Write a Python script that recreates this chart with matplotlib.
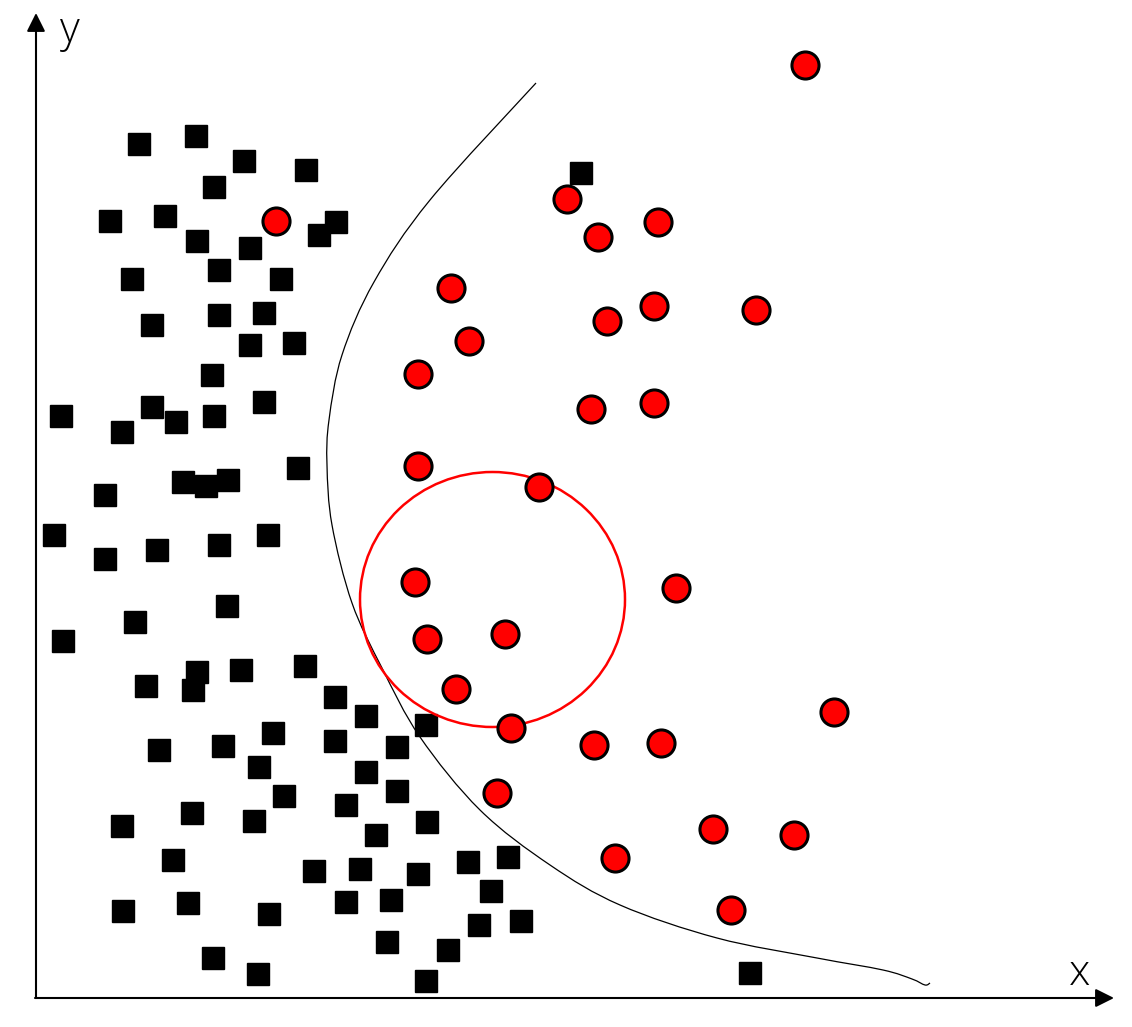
import matplotlib
matplotlib.use("Agg")
import matplotlib.pyplot as plt
from matplotlib.patches import Ellipse, PathPatch
from matplotlib.path import Path

# Class A (black squares), pixel-space positions
sq_x = [139, 196, 244, 214, 306, 110, 165, 197, 250, 336, 319, 132, 219, 281, 152, 219, 264, 250, 294, 212,
        61, 122, 152, 176, 214, 264, 298, 105, 183, 206, 228, 54, 105, 157, 219, 268, 227, 135, 63, 197,
        193, 146, 241, 305, 335, 366, 426, 273, 335, 397, 159, 223, 259, 366, 397, 284, 192, 254, 346, 122,
        376, 427, 173, 314, 360, 418, 468, 508, 491, 123, 188, 269, 346, 391, 479, 521, 387, 448, 213, 258,
        426, 750, 581]
sq_y = [144, 136, 161, 187, 170, 221, 216, 241, 248, 222, 235, 279, 270, 279, 325, 315, 313, 345, 343, 375,
        416, 432, 407, 422, 416, 402, 468, 495, 482, 486, 480, 535, 559, 550, 545, 535, 606, 622, 641, 672,
        690, 686, 670, 666, 697, 716, 725, 733, 741, 747, 750, 746, 767, 772, 791, 796, 813, 821, 805, 826,
        835, 822, 860, 871, 869, 874, 862, 857, 891, 911, 903, 914, 902, 900, 925, 921, 942, 950, 958, 974,
        981, 973, 173]

# Class B (red circles)
ci_x = [805, 567, 598, 658, 276, 451, 469, 607, 654, 756, 418, 591, 654, 418, 539, 415, 676, 427, 505, 456,
        511, 594, 661, 834, 497, 713, 794, 615, 731]
ci_y = [65, 199, 237, 222, 221, 288, 341, 321, 306, 310, 374, 409, 403, 466, 487, 582, 588, 639, 634, 689,
        728, 745, 743, 712, 793, 829, 835, 858, 910]

# Decision boundary (hand-drawn curve)
curve_x = [536, 430, 374, 342, 329, 327, 332, 352, 382, 420, 480, 550, 620, 717, 817, 883, 912, 925, 930]
curve_y = [83, 200, 282, 355, 420, 465, 525, 603, 668, 737, 810, 865, 905, 938, 958, 970, 979, 985, 983]

# Neighbourhood circle
circ_cx, circ_cy, circ_w, circ_h = 492.5, 599.5, 265, 255

W, H = 1132, 1027
fig = plt.figure(figsize=(W / 100, H / 100), dpi=100)
ax = fig.add_axes([0, 0, 1, 1])
ax.set_xlim(0, W)
ax.set_ylim(H, 0)
ax.axis("off")

# axes with arrows
ax.annotate("", xy=(36, 13), xytext=(36, 998),
            arrowprops=dict(arrowstyle="-|>", lw=1.5, color="black", mutation_scale=28, shrinkA=0, shrinkB=0))
ax.annotate("", xy=(1114, 998), xytext=(35, 998),
            arrowprops=dict(arrowstyle="-|>", lw=1.5, color="black", mutation_scale=28, shrinkA=0, shrinkB=0))

ax.text(70, 42, "y", fontsize=31, ha="center", va="baseline", family="Open Sans", fontweight="light")
ax.text(1080, 985, "x", fontsize=31, ha="center", va="baseline", family="Open Sans", fontweight="light")

# smooth curve through the read points (Catmull-Rom as cubic Bezier segments)
pts = list(zip(curve_x, curve_y))
verts = [pts[0]]
codes = [Path.MOVETO]
n = len(pts)
for i in range(n - 1):
    p0 = pts[i - 1] if i > 0 else pts[i]
    p1 = pts[i]
    p2 = pts[i + 1]
    p3 = pts[i + 2] if i + 2 < n else pts[i + 1]
    c1 = (p1[0] + (p2[0] - p0[0]) / 6, p1[1] + (p2[1] - p0[1]) / 6)
    c2 = (p2[0] - (p3[0] - p1[0]) / 6, p2[1] - (p3[1] - p1[1]) / 6)
    verts += [c1, c2, p2]
    codes += [Path.CURVE4] * 3
ax.add_patch(PathPatch(Path(verts, codes), fill=False, edgecolor="black", lw=0.9))

ax.add_patch(Ellipse((circ_cx, circ_cy), circ_w, circ_h, fill=False, edgecolor="#ff0000", lw=1.8, zorder=4))

ax.plot(sq_x, sq_y, linestyle="none", marker="s", markersize=15.8, color="black", zorder=3)
ax.plot(ci_x, ci_y, linestyle="none", marker="o", markersize=19.5, markerfacecolor="#ff0000",
        markeredgecolor="black", markeredgewidth=2.2, zorder=5)

fig.savefig("out.png", dpi=100)
